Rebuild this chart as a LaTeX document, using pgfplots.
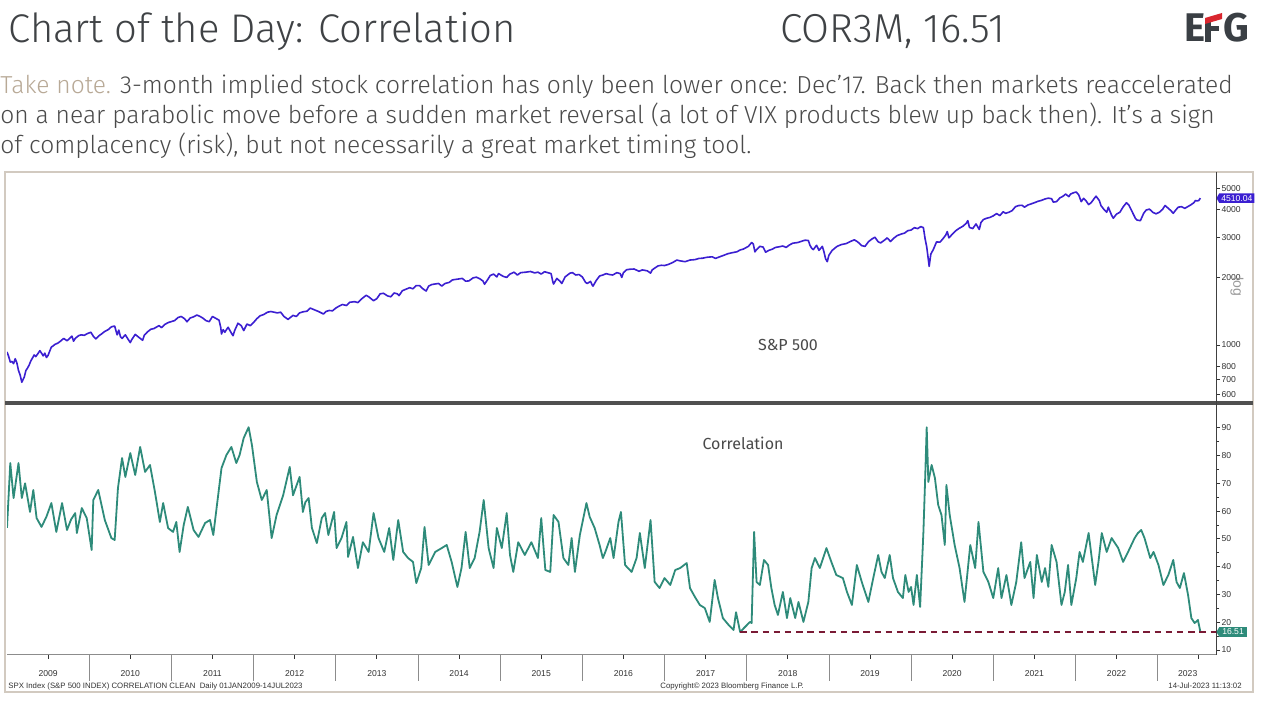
\documentclass[border=0pt]{standalone}
\usepackage{fontspec}
\usepackage{pgfplots}
\pgfplotsset{compat=1.18}
\usetikzlibrary{shapes.symbols}
\setmainfont{Fira Sans}
\newfontfamily\firalight{Fira Sans Light}
\newfontfamily\tickf{Liberation Sans}
\definecolor{spx}{HTML}{3B1FD1}
\definecolor{cor}{HTML}{2E8B7A}
\definecolor{titlec}{HTML}{3F4245}
\definecolor{bodyc}{HTML}{4A4A4A}
\definecolor{tanc}{HTML}{B8A996}
\definecolor{framec}{HTML}{D2CAC0}
\definecolor{dred}{HTML}{7A1A35}
\definecolor{logoc}{HTML}{3A3F44}
\definecolor{logored}{HTML}{D9262E}
\definecolor{tickc}{HTML}{333333}
\definecolor{sepc}{HTML}{505050}
\begin{document}
\begin{tikzpicture}[x=1pt,y=1pt]
\fill[white] (0,0) rectangle (640,352.5);
% header
\node[anchor=base west, inner sep=0, text=titlec, font=\firalight\fontsize{20}{20}\selectfont] at (4,331) {Chart of the Day: Correlation};
\node[anchor=base west, inner sep=0, text=titlec, font=\firalight\fontsize{20.2}{20}\selectfont] at (390,331) {COR3M, 16.51};
% logo
\node[anchor=base west, inner sep=0, text=logoc, font=\bfseries\fontsize{20}{20}\selectfont] at (592,331.5) {E};
\fill[logoc] (602.5,331.5) rectangle (605.5,343);
\fill[logoc] (602.5,337) rectangle (609.5,339.5);
\fill[logored] (602.5,340.5) -- (602.5,343.5) -- (611,346) -- (611,343) -- cycle;
\node[anchor=base west, inner sep=0, text=logoc, font=\bfseries\fontsize{20}{20}\selectfont] at (611.5,331.5) {G};
% subtitle
\begin{scope}[every node/.style={anchor=base west, inner sep=0, text=bodyc, font=\firalight\fontsize{12.3}{12}\selectfont}]
\node at (0,305.5) {\textcolor{tanc}{Take note.} 3-month implied stock correlation has only been lower once: Dec’17. Back then markets reaccelerated};
\node at (0,290.5) {on a near parabolic move before a sudden market reversal (a lot of VIX products blew up back then). It’s a sign};
\node at (0,275.5) {of complacency (risk), but not necessarily a great market timing tool.};
\end{scope}
% frame
\draw[framec, line width=0.6pt] (2.5,6.5) rectangle (626.5,266.5);
% top panel: S&P 500
\begin{axis}[
  at={(3.5pt,151pt)}, anchor=south west, scale only axis,
  width=604.5pt, height=115pt,
  xmin=2009, xmax=2023.71,
  ymode=log, ymin=552, ymax=5836,
  axis line style={draw=none},
  xtick=\empty,
  ytick={600,700,800,1000,2000,3000,4000,5000},
  yticklabels={600,700,800,1000,2000,3000,4000,5000},
  /pgf/number format/assume math mode=true,
  minor ytick={}, ytick pos=right,
  tick align=outside, major tick length=2pt,
  tick style={draw=tickc, line width=0.4pt},
  yticklabel style={font=\tickf\fontsize{4.3}{5}\selectfont, text=tickc, inner sep=0.6pt},
  clip mode=individual,
]
\addplot[spx, line width=0.8pt, line join=round] coordinates {
(2009.00,931) (2009.02,890) (2009.04,840) (2009.06,845) (2009.08,826) (2009.10,869) (2009.12,833) (2009.14,770) (2009.16,735) (2009.18,683) (2009.21,720) (2009.23,770) (2009.25,790) (2009.27,815) (2009.29,850) (2009.31,875) (2009.33,903) (2009.35,888) (2009.38,920) (2009.40,944) (2009.42,920) (2009.44,895) (2009.46,920) (2009.48,880) (2009.50,900) (2009.52,940) (2009.54,980) (2009.56,990) (2009.58,1005) (2009.62,1020) (2009.65,1040) (2009.69,1070) (2009.73,1045) (2009.75,1060) (2009.79,1095) (2009.81,1040) (2009.83,1070) (2009.87,1100) (2009.90,1110) (2009.94,1105) (2009.98,1125)
(2010.02,1140) (2010.05,1095) (2010.08,1065) (2010.12,1100) (2010.15,1120) (2010.19,1150) (2010.23,1170) (2010.27,1205) (2010.31,1215) (2010.34,1110) (2010.36,1165) (2010.38,1090) (2010.40,1070) (2010.44,1110) (2010.46,1080) (2010.50,1025) (2010.52,1060) (2010.56,1115) (2010.60,1085) (2010.65,1050) (2010.67,1105) (2010.71,1145) (2010.75,1175) (2010.79,1185) (2010.85,1220) (2010.88,1195) (2010.92,1235) (2010.96,1258)
(2011.00,1272) (2011.04,1285) (2011.08,1325) (2011.12,1340) (2011.16,1310) (2011.19,1270) (2011.23,1320) (2011.27,1335) (2011.31,1360) (2011.35,1340) (2011.38,1320) (2011.42,1285) (2011.46,1270) (2011.50,1340) (2011.54,1315) (2011.58,1290) (2011.60,1200) (2011.61,1120) (2011.63,1170) (2011.65,1140) (2011.69,1200) (2011.73,1130) (2011.75,1100) (2011.77,1160) (2011.81,1250) (2011.85,1220) (2011.88,1160) (2011.92,1240) (2011.96,1220)
(2012.00,1260) (2012.04,1310) (2012.08,1350) (2012.12,1365) (2012.17,1400) (2012.21,1410) (2012.25,1400) (2012.29,1390) (2012.33,1400) (2012.37,1340) (2012.42,1300) (2012.44,1320) (2012.48,1355) (2012.52,1340) (2012.56,1390) (2012.60,1405) (2012.65,1415) (2012.69,1460) (2012.73,1440) (2012.79,1410) (2012.85,1375) (2012.88,1410) (2012.92,1425) (2012.96,1420)
(2013.00,1460) (2013.04,1490) (2013.08,1515) (2013.13,1500) (2013.17,1550) (2013.23,1560) (2013.27,1545) (2013.31,1600) (2013.37,1665) (2013.40,1640) (2013.46,1575) (2013.50,1610) (2013.54,1690) (2013.58,1700) (2013.63,1655) (2013.67,1640) (2013.71,1705) (2013.75,1690) (2013.77,1660) (2013.81,1745) (2013.85,1770) (2013.90,1800) (2013.94,1780) (2013.98,1840)
(2014.02,1840) (2014.06,1780) (2014.10,1740) (2014.13,1830) (2014.17,1860) (2014.21,1870) (2014.25,1880) (2014.29,1830) (2014.33,1880) (2014.38,1900) (2014.42,1950) (2014.46,1960) (2014.50,1970) (2014.54,1980) (2014.58,1925) (2014.62,1930) (2014.67,1990) (2014.71,2005) (2014.75,1975) (2014.79,1930) (2014.81,1865) (2014.85,1960) (2014.88,2040) (2014.92,2070) (2014.96,2010) (2014.98,2080)
(2015.00,2060) (2015.04,2020) (2015.08,2000) (2015.12,2070) (2015.17,2110) (2015.21,2050) (2015.25,2100) (2015.31,2110) (2015.37,2125) (2015.42,2095) (2015.46,2110) (2015.50,2070) (2015.54,2120) (2015.58,2100) (2015.62,2080) (2015.64,1920) (2015.65,1870) (2015.69,1980) (2015.73,1920) (2015.75,1880) (2015.79,2010) (2015.85,2090) (2015.88,2100) (2015.92,2050) (2015.96,2060)
(2016.00,2010) (2016.04,1900) (2016.06,1880) (2016.10,1920) (2016.12,1850) (2016.13,1830) (2016.17,1940) (2016.21,2030) (2016.25,2050) (2016.29,2080) (2016.33,2060) (2016.37,2050) (2016.42,2100) (2016.46,2080) (2016.48,2000) (2016.50,2100) (2016.54,2165) (2016.58,2175) (2016.63,2180) (2016.69,2130) (2016.73,2160) (2016.79,2140) (2016.83,2090) (2016.85,2160) (2016.88,2200) (2016.92,2250) (2016.96,2265)
(2017.00,2260) (2017.04,2280) (2017.10,2330) (2017.15,2390) (2017.19,2370) (2017.25,2350) (2017.31,2390) (2017.37,2400) (2017.42,2430) (2017.46,2435) (2017.52,2460) (2017.58,2470) (2017.62,2430) (2017.67,2470) (2017.71,2500) (2017.77,2550) (2017.83,2580) (2017.88,2600) (2017.92,2650) (2017.96,2675)
(2018.02,2750) (2018.06,2860) (2018.08,2820) (2018.10,2600) (2018.12,2660) (2018.16,2750) (2018.20,2730) (2018.23,2590) (2018.27,2640) (2018.31,2670) (2018.35,2720) (2018.40,2740) (2018.44,2760) (2018.48,2720) (2018.52,2790) (2018.56,2840) (2018.62,2860) (2018.67,2900) (2018.71,2930) (2018.75,2920) (2018.77,2780) (2018.79,2700) (2018.81,2660) (2018.85,2780) (2018.88,2640) (2018.92,2750) (2018.94,2600) (2018.96,2420) (2018.98,2350)
(2019.00,2510) (2019.04,2640) (2019.10,2750) (2019.15,2800) (2019.21,2830) (2019.27,2900) (2019.31,2940) (2019.35,2880) (2019.40,2770) (2019.44,2750) (2019.48,2880) (2019.52,2960) (2019.56,3020) (2019.60,2880) (2019.63,2850) (2019.67,2920) (2019.71,3000) (2019.75,2890) (2019.79,2990) (2019.83,3070) (2019.88,3120) (2019.92,3150) (2019.96,3230)
(2020.00,3250) (2020.04,3330) (2020.08,3300) (2020.12,3370) (2020.15,3330) (2020.17,2980) (2020.19,2740) (2020.21,2400) (2020.22,2240) (2020.24,2540) (2020.27,2660) (2020.31,2880) (2020.35,2870) (2020.38,2950) (2020.42,3080) (2020.44,3200) (2020.46,3000) (2020.50,3110) (2020.54,3220) (2020.58,3300) (2020.63,3380) (2020.67,3480) (2020.69,3580) (2020.71,3340) (2020.75,3300) (2020.79,3460) (2020.83,3270) (2020.85,3510) (2020.88,3620) (2020.92,3670) (2020.96,3700)
(2021.00,3760) (2021.04,3850) (2021.08,3770) (2021.12,3920) (2021.15,3860) (2021.19,3900) (2021.23,3970) (2021.27,4130) (2021.31,4180) (2021.35,4190) (2021.38,4110) (2021.42,4200) (2021.46,4250) (2021.50,4300) (2021.54,4360) (2021.58,4400) (2021.63,4470) (2021.67,4510) (2021.71,4480) (2021.73,4330) (2021.77,4350) (2021.81,4520) (2021.85,4600) (2021.88,4700) (2021.92,4580) (2021.94,4700) (2021.98,4770)
(2022.01,4800) (2022.04,4660) (2022.07,4350) (2022.10,4500) (2022.13,4380) (2022.16,4220) (2022.19,4300) (2022.23,4500) (2022.25,4600) (2022.29,4400) (2022.31,4180) (2022.35,4000) (2022.38,3900) (2022.40,4110) (2022.44,3780) (2022.46,3670) (2022.50,3830) (2022.54,3900) (2022.58,4120) (2022.62,4300) (2022.65,4200) (2022.69,3920) (2022.73,3660) (2022.75,3600) (2022.79,3580) (2022.83,3860) (2022.86,3990) (2022.90,4030) (2022.94,3900) (2022.98,3840)
(2023.02,3900) (2023.06,4020) (2023.09,4180) (2023.12,4090) (2023.16,3970) (2023.19,3860) (2023.21,3950) (2023.25,4110) (2023.29,4130) (2023.33,4060) (2023.37,4140) (2023.40,4200) (2023.44,4300) (2023.46,4400) (2023.48,4380) (2023.50,4400) (2023.52,4510)
};
\node[signal, signal to=west, signal pointer angle=120, fill=spx, text=white, inner xsep=1pt, inner ysep=0.9pt, font=\tickf\fontsize{4.3}{4.8}\selectfont, anchor=west] at (axis cs:2023.71,4510.04) {4510.04};
\end{axis}
% bottom panel: correlation
\begin{axis}[
  at={(3.5pt,25pt)}, anchor=south west, scale only axis,
  width=604.5pt, height=125pt,
  xmin=2009, xmax=2023.71, ymin=8.2, ymax=98.2,
  axis line style={draw=none},
  ytick={10,20,...,90}, yticklabels={10,20,30,40,50,60,70,80,90},
  /pgf/number format/assume math mode=true,
  minor y tick num=1, ytick pos=right,
  xtick={2009.5,2010.5,...,2023.5},
  xticklabels={2009,2010,2011,2012,2013,2014,2015,2016,2017,2018,2019,2020,2021,2022,{\kern-11pt 2023}},
  minor x tick num=3, xtick pos=bottom,
  tick align=outside, major tick length=2pt, minor tick length=1.6pt,
  tick style={draw=tickc, line width=0.4pt},
  yticklabel style={font=\tickf\fontsize{4.3}{5}\selectfont, text=tickc, inner sep=0.6pt},
  xticklabel style={font=\tickf\fontsize{4.3}{5}\selectfont, text=tickc, anchor=center, yshift=-7.5pt},
  clip mode=individual,
]
\addplot[cor, line width=0.9pt, line join=round] coordinates {
(2009.00,54) (2009.04,77.3) (2009.08,64.7) (2009.14,77.3) (2009.18,64.7) (2009.22,70) (2009.28,59.7) (2009.32,67.6) (2009.36,57.5) (2009.42,54.3) (2009.48,58) (2009.54,62.9) (2009.60,52.5) (2009.67,62.9) (2009.73,53.2) (2009.78,57) (2009.83,59.3) (2009.85,52.1) (2009.91,61.1) (2009.97,57.5)
(2010.03,46) (2010.05,64) (2010.11,67.6) (2010.19,56.8) (2010.27,50.3) (2010.31,49.6) (2010.35,68.3) (2010.40,79.1) (2010.44,72.3) (2010.50,80.9) (2010.56,73) (2010.62,83.1) (2010.68,74.1) (2010.74,76.6) (2010.80,66.9) (2010.86,56.1) (2010.90,62.9) (2010.96,53.9)
(2011.02,52.5) (2011.06,56.1) (2011.10,45.3) (2011.15,55) (2011.20,61.5) (2011.27,53.2) (2011.33,50.7) (2011.41,55.7) (2011.47,56.8) (2011.51,51.4) (2011.55,61.1) (2011.61,75.5) (2011.67,80.2) (2011.73,83.1) (2011.79,77.3) (2011.83,80.2) (2011.88,86.3) (2011.94,90.2) (2011.98,83.8)
(2012.04,70.5) (2012.10,64) (2012.16,67.6) (2012.22,50.3) (2012.28,58.6) (2012.36,65.7) (2012.44,75.9) (2012.48,65.7) (2012.56,72.3) (2012.60,59.7) (2012.63,63.2) (2012.67,64.7) (2012.71,53.9) (2012.77,48.5) (2012.83,57.5) (2012.87,59.3) (2012.91,51.4) (2012.98,59.7)
(2013.01,46.7) (2013.07,50.3) (2013.13,56.1) (2013.15,43.5) (2013.21,50.7) (2013.27,39.5) (2013.33,48.8) (2013.40,45.3) (2013.46,59.3) (2013.52,50.3) (2013.59,45.3) (2013.65,53.9) (2013.70,42.4) (2013.76,56.8) (2013.82,45.3) (2013.88,43.1) (2013.94,41.7) (2013.98,34.1)
(2014.04,39.5) (2014.08,54.3) (2014.13,40.6) (2014.21,45.3) (2014.29,46.7) (2014.35,47.8) (2014.41,41.7) (2014.48,32.7) (2014.53,39.5) (2014.58,52.5) (2014.63,39.5) (2014.69,43.1) (2014.75,52.5) (2014.80,64) (2014.86,46.7) (2014.92,39.5) (2014.96,53.9)
(2015.02,46.7) (2015.08,59.3) (2015.12,44.2) (2015.16,38.1) (2015.22,48.8) (2015.30,44.2) (2015.38,48.8) (2015.46,43.1) (2015.50,57.5) (2015.55,38.8) (2015.61,38.1) (2015.65,58.6) (2015.71,56.1) (2015.77,43.1) (2015.83,40.6) (2015.87,50.3) (2015.91,38.1) (2015.97,51.4)
(2016.05,62.9) (2016.09,57.9) (2016.15,53.9) (2016.21,47.8) (2016.25,43.1) (2016.28,45.3) (2016.34,50.3) (2016.38,43.1) (2016.44,56.1) (2016.47,59.7) (2016.52,40.6) (2016.60,38.1) (2016.66,43.1) (2016.70,52.1) (2016.76,39.5) (2016.83,56.8) (2016.88,34.5) (2016.94,32.3)
(2017.00,35.9) (2017.07,33.4) (2017.13,38.8) (2017.19,39.5) (2017.27,41.3) (2017.31,32.3) (2017.37,29.1) (2017.43,26.2) (2017.49,25.1) (2017.55,20.1) (2017.61,35.2) (2017.65,28.7) (2017.71,21.5) (2017.78,19) (2017.84,17.2) (2017.87,23.6) (2017.92,16.5) (2017.98,18.3)
(2018.04,20.1) (2018.06,19.7) (2018.09,52.5) (2018.12,34.5) (2018.16,33.4) (2018.21,42.4) (2018.26,40.6) (2018.30,32.3) (2018.34,26.2) (2018.38,22.6) (2018.44,30.9) (2018.49,21.5) (2018.53,28.7) (2018.59,21.5) (2018.63,27.3) (2018.69,20.1) (2018.75,27.3) (2018.79,39.5) (2018.83,43.1) (2018.89,39.5) (2018.97,46.7)
(2019.03,41.7) (2019.09,37) (2019.17,35.9) (2019.22,30.9) (2019.28,26.2) (2019.34,40.6) (2019.40,34.5) (2019.48,27.3) (2019.54,35.9) (2019.60,44.2) (2019.64,38.1) (2019.68,35.9) (2019.74,44.2) (2019.78,35.9) (2019.84,30.9) (2019.90,28.7) (2019.93,37) (2019.97,30.9)
(2020.00,32.7) (2020.03,26.2) (2020.07,37) (2020.11,25.5) (2020.15,52.5) (2020.17,70.5) (2020.19,90.2) (2020.21,70.5) (2020.25,76.6) (2020.29,71.9) (2020.33,62.2) (2020.37,58.6) (2020.41,47.8) (2020.43,69.4) (2020.47,58.6) (2020.53,47.8) (2020.59,39.5) (2020.65,27.3) (2020.72,47.8) (2020.78,39.5) (2020.82,56.1) (2020.88,38.1) (2020.94,34.5)
(2021.00,28.7) (2021.06,39.5) (2021.10,28.7) (2021.16,37) (2021.22,26.2) (2021.28,34.5) (2021.34,48.8) (2021.38,35.9) (2021.45,41.7) (2021.49,28.7) (2021.53,44.2) (2021.59,34.5) (2021.63,39.5) (2021.67,32.7) (2021.71,47.8) (2021.77,41.7) (2021.83,26.2) (2021.87,30.9) (2021.91,40.6) (2021.95,26.2)
(2022.01,35.9) (2022.05,45.3) (2022.09,41.7) (2022.16,52.1) (2022.24,33.4) (2022.28,41.7) (2022.32,52.1) (2022.38,45.3) (2022.44,50.3) (2022.52,46.7) (2022.58,41.7) (2022.64,45.3) (2022.72,50.3) (2022.76,52.1) (2022.80,53.2) (2022.84,50.3) (2022.91,43.1) (2022.95,45.3)
(2023.01,40.6) (2023.07,33.4) (2023.13,37) (2023.19,42.4) (2023.23,34.5) (2023.27,32.3) (2023.32,37.7) (2023.37,29.8) (2023.41,21.5) (2023.45,19.7) (2023.49,20.8) (2023.52,16.51)
};
\addplot[dred, line width=0.7pt, dash pattern=on 3.2pt off 2.4pt] coordinates {(2017.92,16.51) (2023.71,16.51)};
\node[signal, signal to=west, signal pointer angle=120, fill=cor, text=white, inner xsep=1.5pt, inner ysep=0.9pt, font=\tickf\fontsize{4.3}{4.8}\selectfont, anchor=west] at (axis cs:2023.71,16.51) {16.51};
\end{axis}
% panel decorations
\draw[sepc, line width=2pt] (2.5,151) -- (626.5,151);
\draw[black!75, line width=0.5pt] (608,266.5) -- (608,25);
\draw[black!45, line width=0.5pt] (3.5,25) -- (608,25);
\foreach \k in {1,...,14} {\draw[black!45, line width=0.4pt] ({3.5+41.095*\k},25) -- ({3.5+41.095*\k},12);}
\node[rotate=-90, text=black!40, font=\tickf\fontsize{7}{8}\selectfont, inner sep=0] at (618.5,209) {log};
\node[text=bodyc, font=\fontsize{8}{9}\selectfont, inner sep=0] at (394,180) {S\&P 500};
\node[text=bodyc, font=\fontsize{8}{9}\selectfont, inner sep=0] at (371.5,131) {Correlation};
% footer
\begin{scope}[every node/.style={inner sep=0, text=tickc, font=\tickf\fontsize{3.9}{4}\selectfont}]
\node[anchor=base west] at (4,8.3) {SPX Index (S\&P 500 INDEX) CORRELATION CLEAN\ \ Daily 01JAN2009-14JUL2023};
\node[anchor=base west] at (330,8.3) {Copyright© 2023 Bloomberg Finance L.P.};
\node[anchor=base east] at (621,8.3) {14-Jul-2023 11:13:02};
\end{scope}
\pgfresetboundingbox
\path (0,0) rectangle (640,352.5);
\end{tikzpicture}
\end{document}
